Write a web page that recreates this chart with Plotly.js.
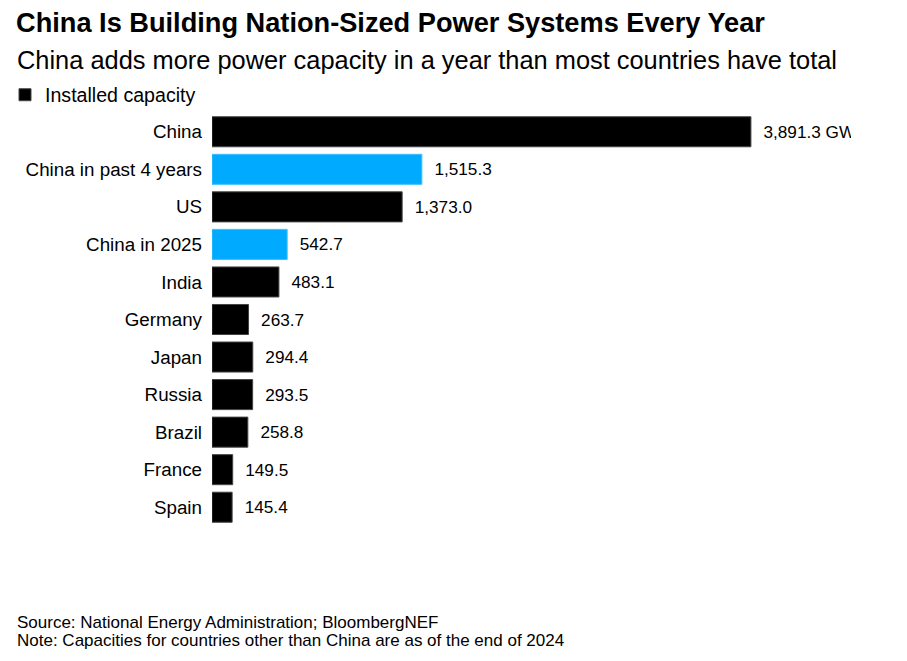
<!DOCTYPE html>
<html>
<head>
<meta charset="utf-8">
<script src="https://cdn.plot.ly/plotly-3.0.1.min.js"></script>
<style>
html,body{margin:0;padding:0;background:#fff;}
#chart{width:907px;height:661px;}
</style>
</head>
<body>
<div id="chart"></div>
<script>
// Data
const categories = ["China", "China in past 4 years", "US", "China in 2025", "India", "Germany", "Japan", "Russia", "Brazil", "France", "Spain"];
const capacityGW = [3891.3, 1515.3, 1373.0, 542.7, 483.1, 263.7, 294.4, 293.5, 258.8, 149.5, 145.4];
const valueLabels = ["3,891.3 GW", "1,515.3", "1,373.0", "542.7", "483.1", "263.7", "294.4", "293.5", "258.8", "149.5", "145.4"];
const isChinaAddition = [false, true, false, true, false, false, false, false, false, false, false];

const BLACK = "#000000", BLUE = "#00aaff";
const barColors = isChinaAddition.map(b => b ? BLUE : BLACK);
const lineColors = isChinaAddition.map(b => b ? "#3dbfff" : "#444444");

const FONT = "Liberation Sans, Arial, sans-serif";
const LEFT = 212, PW = 639, TOP = 113, PH = 413;
const px2x = p => (p - LEFT) / PW;
const py2y = p => (TOP + PH - p) / PH;

const trace = {
  type: "bar",
  orientation: "h",
  name: "Installed capacity",
  y: categories,
  x: capacityGW,
  text: valueLabels.map(t => "\u00a0\u00a0" + t),
  textposition: "outside",
  cliponaxis: true,
  constraintext: "none",
  textfont: {family: FONT, size: 17.2, color: "#000"},
  marker: {color: barColors, line: {color: lineColors, width: 1}},
  hoverinfo: "skip",
  showlegend: true
};

const layout = {
  width: 907, height: 661,
  paper_bgcolor: "#fff", plot_bgcolor: "#fff",
  margin: {l: LEFT, r: 907 - LEFT - PW, t: TOP, b: 661 - TOP - PH, autoexpand: false},
  bargap: 0.2,
  font: {family: FONT, color: "#000"},
  title: {
    text: "<b>China Is Building Nation-Sized Power Systems Every Year</b>",
    font: {family: FONT, size: 27.2, color: "#000"},
    xref: "container", x: 16/907, xanchor: "left",
    yref: "container", y: 1 - 22/661, yanchor: "middle",
    automargin: false
  },
  xaxis: {
    range: [0, 4614],
    visible: false,
    automargin: false,
    fixedrange: true
  },
  yaxis: {
    autorange: "reversed",
    type: "category",
    automargin: false,
    showgrid: false, zeroline: false, showline: false,
    ticks: "", ticklabelstandoff: 9,
    tickfont: {family: FONT, size: 18.8, color: "#000"},
    fixedrange: true
  },
  showlegend: true,
  legend: {
    x: px2x(5), xanchor: "left",
    y: py2y(95), yanchor: "middle",
    orientation: "h",
    font: {family: FONT, size: 19.6, color: "#000"},
    bgcolor: "rgba(0,0,0,0)",
    itemclick: false, itemdoubleclick: false
  },
  annotations: [
    {text: "China adds more power capacity in a year than most countries have total",
     xref: "paper", yref: "paper", x: px2x(15), y: py2y(60), xanchor: "left", yanchor: "middle",
     showarrow: false, font: {family: FONT, size: 25.4, color: "#000"}},
    {text: "Source: National Energy Administration; BloombergNEF",
     xref: "paper", yref: "paper", x: px2x(15), y: py2y(622), xanchor: "left", yanchor: "middle",
     showarrow: false, font: {family: FONT, size: 17, color: "#000"}},
    {text: "Note: Capacities for countries other than China are as of the end of 2024",
     xref: "paper", yref: "paper", x: px2x(15), y: py2y(640), xanchor: "left", yanchor: "middle",
     showarrow: false, font: {family: FONT, size: 17, color: "#000"}}
  ]
};

Plotly.newPlot("chart", [trace], layout, {displayModeBar: false, staticPlot: true});
</script>
</body>
</html>
